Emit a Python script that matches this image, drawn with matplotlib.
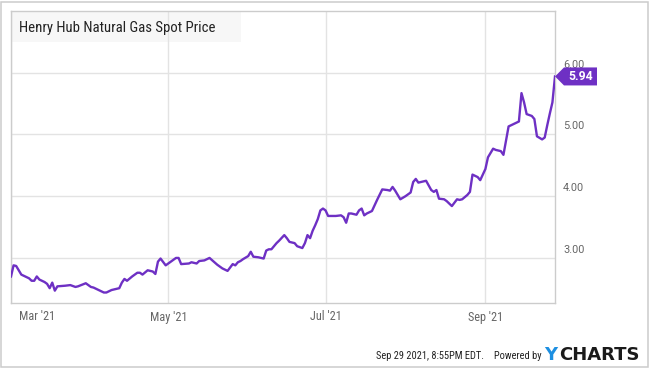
import pandas as pd
import matplotlib
matplotlib.use("Agg")
import matplotlib.pyplot as plt
import matplotlib.dates as mdates
import matplotlib.transforms as mtransforms
from matplotlib.patches import Polygon, Rectangle

# daily spot price, days counted from Mar 1 2021
start = pd.Timestamp("2021-03-01")
day_offset = [0, 1, 2, 4, 6, 7, 8, 9, 10, 11, 13, 14, 15, 16, 17, 18, 21, 23, 25, 26,
              29, 31, 32, 34, 36, 37, 39, 42, 43, 44, 45, 47, 49, 50, 51, 53, 55, 56, 57, 58,
              60, 62, 64, 65, 66, 69, 70, 72, 73, 75, 77, 80, 82, 84, 86, 87, 88, 89, 90, 92,
              93, 94, 96, 98, 99, 100, 101, 103, 104, 106, 107, 108, 110, 111, 113, 114, 115, 116, 117, 118,
              119, 120, 121, 122, 123, 126, 128, 129, 130, 131, 132, 134, 135, 136, 137, 138, 140, 142, 144, 146,
              147, 148, 149, 151, 153, 155, 156, 157, 158, 160, 161, 163, 164, 165, 166, 168, 169, 171, 173, 174,
              175, 177, 178, 179, 181, 182, 184, 185, 187, 188, 190, 191, 192, 193, 195, 197, 198, 199, 200, 202,
              203, 204, 206, 207, 208, 209, 210, 211]
price = [2.70, 2.88, 2.87, 2.73, 2.69, 2.67, 2.63, 2.63, 2.70, 2.65, 2.61, 2.58, 2.51, 2.60, 2.47, 2.54, 2.55, 2.56, 2.53, 2.54,
         2.59, 2.53, 2.52, 2.48, 2.44, 2.44, 2.48, 2.51, 2.60, 2.66, 2.63, 2.70, 2.76, 2.76, 2.73, 2.80, 2.78, 2.74, 2.94, 2.99,
         2.88, 2.94, 3.00, 3.00, 2.90, 2.91, 2.93, 2.91, 2.95, 2.96, 3.00, 2.89, 2.83, 2.79, 2.90, 2.88, 2.93, 2.95, 2.98, 3.03,
         3.10, 3.02, 3.01, 2.99, 3.12, 3.14, 3.14, 3.24, 3.28, 3.37, 3.32, 3.26, 3.24, 3.19, 3.16, 3.24, 3.37, 3.32, 3.44, 3.53,
         3.63, 3.77, 3.80, 3.77, 3.68, 3.68, 3.69, 3.66, 3.57, 3.72, 3.72, 3.70, 3.77, 3.80, 3.69, 3.72, 3.76, 3.94, 4.11, 4.10,
         4.09, 4.15, 4.09, 3.95, 4.00, 4.06, 4.23, 4.28, 4.22, 4.24, 4.25, 4.10, 4.07, 4.10, 3.96, 3.95, 3.92, 3.84, 3.95, 3.94,
         3.95, 4.02, 4.07, 4.35, 4.31, 4.26, 4.44, 4.63, 4.77, 4.75, 4.73, 4.67, 4.90, 5.13, 5.17, 5.21, 5.67, 5.52, 5.33, 5.30,
         5.25, 4.97, 4.92, 4.95, 5.15, 5.34, 5.52, 5.94]

month_ticks = ["2021-03-01", "2021-05-01", "2021-07-01", "2021-09-01"]
month_labels = ["Mar '21", "May '21", "Jul '21", "Sep '21"]
y_ticks = [3, 4, 5, 6]
y_labels = ["3.00", "4.00", "5.00", "6.00"]
title = "Henry Hub Natural Gas Spot Price"
stamp = "Sep 29 2021, 8:55PM EDT."

purple = "#6e30c4"
narrow = ["Roboto Condensed", "Roboto", "DejaVu Sans"]
font = ["Roboto", "DejaVu Sans"]

dates = start + pd.to_timedelta(day_offset, unit="D")
x_num = mdates.date2num(dates)
tick_num = mdates.date2num(pd.to_datetime(month_ticks))
W, H = 650, 368

fig = plt.figure(figsize=(W / 100, H / 100), dpi=100)
ax = fig.add_axes([11 / W, 65 / H, 544 / W, 292 / H])

ax.plot(x_num, price, color=purple, lw=1.7, solid_joinstyle="round", zorder=3)
ax.set_xlim(x_num[0], mdates.date2num(start + pd.Timedelta(days=211)))
ax.set_ylim(2.27, 7.0)

ax.set_xticks(tick_num)
ax.set_yticks(y_ticks)
ax.set_axisbelow(True)
ax.grid(color="#e3e3e3", lw=1)
ax.tick_params(length=0, labelbottom=False, labelleft=False)
for s in ax.spines.values():
    s.set_color("#cccccc")
    s.set_linewidth(1)

# month labels (first one pushed right so it stays inside)
for i, (d, lab) in enumerate(zip(tick_num, month_labels)):
    ax.annotate(lab, xy=(d, 0), xycoords=ax.get_xaxis_transform(),
                xytext=(8 if i == 0 else 0, -14), textcoords="offset pixels",
                ha="left" if i == 0 else "center", va="center",
                fontsize=8.8, color="#666666", family=narrow)

for v, lab in zip(y_ticks, y_labels):
    ax.annotate(lab, xy=(1, v), xycoords=ax.get_yaxis_transform(),
                xytext=(8, 8), textcoords="offset pixels", ha="left", va="center",
                fontsize=7.8, color="#666666", family=font, zorder=4)

# title box
ax.add_patch(Rectangle((0, 1 - 31 / 292), 230 / 544, 31 / 292, transform=ax.transAxes,
                       facecolor="#f7f7f7", edgecolor="none", zorder=0))
fig.text(19 / W, 1 - 32.3 / H, title, ha="left", va="baseline",
         fontsize=10.6, color="#222222", family=narrow)

# last value tag
tag_tr = mtransforms.ScaledTranslation(x_num[-1], price[-1], ax.transData)
tag = Polygon([(0, 0), (9, 9), (42, 9), (42, -9), (9, -9)], closed=True,
              transform=mtransforms.IdentityTransform() + tag_tr,
              facecolor=purple, edgecolor="none", clip_on=False, zorder=10)
ax.add_patch(tag)
ax.annotate(f"{price[-1]:.2f}", xy=(x_num[-1], price[-1]), xytext=(26, 0),
            textcoords="offset pixels", ha="center", va="center", color="white",
            fontsize=8.8, fontweight="bold", family=font, zorder=11)

# footer
fig.text(376 / W, 1 - 359 / H, stamp, ha="left", va="baseline",
         fontsize=7.5, color="#222222", family=narrow)
fig.text(542 / W, 1 - 359 / H, "Powered by", ha="right", va="baseline",
         fontsize=7.5, color="#222222", family=narrow)
fig.text(544 / W, 1 - 360.5 / H, "Y", ha="left", va="baseline",
         fontsize=13, fontweight="bold", color="#1d8fe1", family="DejaVu Sans")
fig.text(559 / W, 1 - 360.5 / H, "CHARTS", ha="left", va="baseline",
         fontsize=13, fontweight="bold", color="#1a1a1a", family="DejaVu Sans")

# outer frame
fig.add_artist(Rectangle((0.75 / W, 1.5 / H), 647.5 / W, 365 / H, transform=fig.transFigure,
                         facecolor="none", edgecolor="#cccccc", lw=1.1))

fig.savefig("out.png", dpi=100)
